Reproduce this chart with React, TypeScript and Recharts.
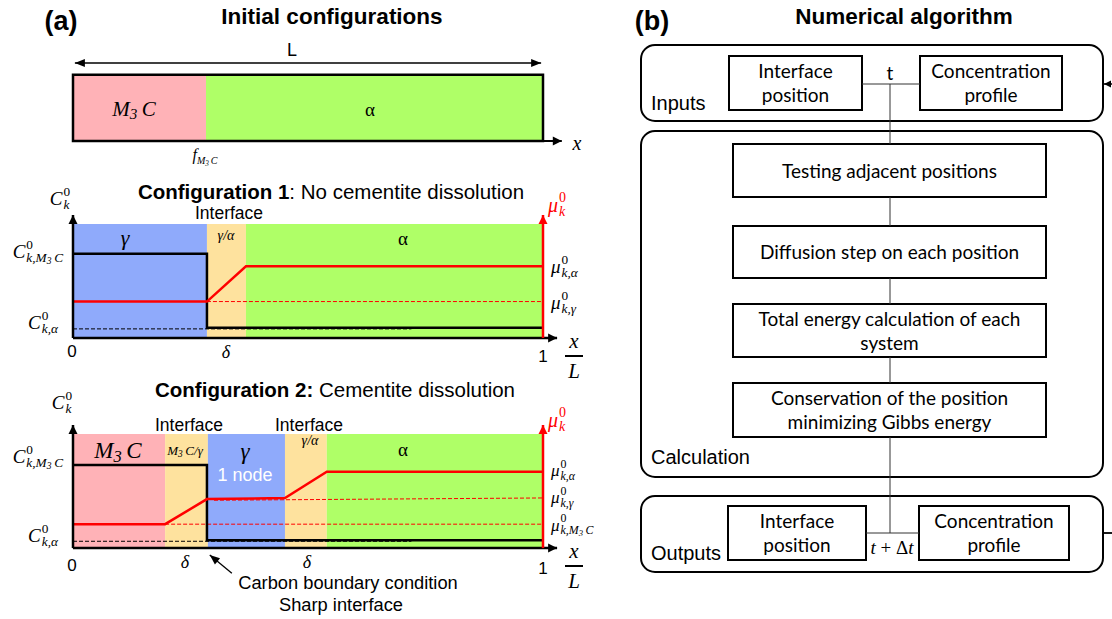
import React from 'react';
import { ComposedChart, Line, XAxis, YAxis, ReferenceArea } from 'recharts';

const SANS = '"Liberation Sans", Arial, sans-serif';
const SERIF = '"Liberation Serif", "DejaVu Serif", serif';
const BOXFONT = 'Lato, "Open Sans", sans-serif';

// ---------------- DATA ----------------
// (a) top bar: phase fractions along x / L
const barPhases = [
  { phase: 'M3C', from: 0, to: 0.283 },
  { phase: 'alpha', from: 0.283, to: 1 },
];
const lengthArrow = [{ x: 0.004, y: 1.18 }, { x: 0.996, y: 1.18 }];
const barAxis = [{ x: 0, y: 0 }, { x: 1.04, y: 0 }];

// Configuration 1: no cementite dissolution
const c1Phases = [
  { phase: 'gamma', from: 0, to: 0.285 },
  { phase: 'interface', from: 0.285, to: 0.368 },
  { phase: 'alpha', from: 0.368, to: 1 },
];
const c1Conc = [{ x: 0, y: 7.4 }, { x: 0.285, y: 7.4 }, { x: 0.285, y: 0.9 }, { x: 1, y: 0.9 }];
const c1ConcAlpha = [{ x: 0, y: 0.8 }, { x: 0.72, y: 0.8 }];
const c1Mu = [{ x: 0, y: 3.2 }, { x: 0.285, y: 3.2 }, { x: 0.368, y: 6.3 }, { x: 1, y: 6.3 }];
const c1MuGamma = [{ x: 0.285, y: 3.2 }, { x: 1, y: 3.2 }];

// Configuration 2: cementite dissolution
const c2Phases = [
  { phase: 'M3C', from: 0, to: 0.196 },
  { phase: 'interface', from: 0.196, to: 0.287 },
  { phase: 'gamma', from: 0.287, to: 0.451 },
  { phase: 'interface', from: 0.451, to: 0.54 },
  { phase: 'alpha', from: 0.54, to: 1 },
];
const c2Conc = [{ x: 0, y: 7.3 }, { x: 0.285, y: 7.3 }, { x: 0.285, y: 0.7 }, { x: 1, y: 0.7 }];
const c2ConcAlpha = [{ x: 0, y: 0.6 }, { x: 0.72, y: 0.6 }];
const c2Mu = [
  { x: 0, y: 2.1 }, { x: 0.196, y: 2.1 }, { x: 0.285, y: 4.3 },
  { x: 0.451, y: 4.4 }, { x: 0.54, y: 6.7 }, { x: 1, y: 6.7 },
];
const c2MuGamma = [{ x: 0.3, y: 4.2 }, { x: 1, y: 4.4 }];
const c2MuM3C = [{ x: 0.196, y: 2.1 }, { x: 1, y: 2.1 }];
const c2Pointer = [{ x: 0.338, y: -2.2 }, { x: 0.291, y: -0.6 }];

const phaseTop = 10;
const yArrowTop = 10.8;
const leftAxis = [{ x: 0, y: 0 }, { x: 0, y: yArrowTop }];
const rightAxis = [{ x: 1, y: 0 }, { x: 1, y: yArrowTop }];
const bottomAxis = [{ x: 0, y: 0 }, { x: 1.03, y: 0 }];

// (b) flowchart
const groupNames = ['Inputs', 'Calculation', 'Outputs'];
const ioNames = ['Interface\nposition', 'Concentration\nprofile', 'Interface\nposition', 'Concentration\nprofile'];
const calcSteps = [
  'Testing adjacent positions',
  'Diffusion step on each position',
  'Total energy calculation of each\nsystem',
  'Conservation of the position\nminimizing Gibbs energy',
];
const timeMarks = ['t', 't + Δt'];

// ---------------- LAYOUT / STYLE ----------------
const phaseFill: Record<string, string> = {
  M3C: '#FFB2B7',
  gamma: '#8FAAFB',
  interface: '#FEE29E',
  alpha: '#AFFF67',
};
const groupBoxes = [[641, 45, 1103, 121], [641, 131, 1103, 477], [641, 496, 1103, 572]];
const groupLabelPos = [[651, 103], [651, 457], [651, 553]];
const calcBoxes = [[733, 144, 1046, 197], [733, 226, 1046, 278], [733, 304, 1046, 357], [733, 383, 1046, 437]];
const ioBoxes = [[729, 56, 862, 110], [920, 56, 1062, 110], [728, 506, 866, 560], [919, 506, 1069, 560]];
const flowLinks = [
  [{ x: 890, y: 84 }, { x: 890, y: 144 }],
  [{ x: 890, y: 197 }, { x: 890, y: 226 }],
  [{ x: 890, y: 278 }, { x: 890, y: 304 }],
  [{ x: 890, y: 357 }, { x: 890, y: 383 }],
  [{ x: 890, y: 437 }, { x: 890, y: 533 }],
  [{ x: 862, y: 84 }, { x: 920, y: 84 }],
  [{ x: 866, y: 533 }, { x: 919, y: 533 }],
];
const outLink = [{ x: 1103, y: 533 }, { x: 1112, y: 533 }];
const loopArrow = [{ x: 1112, y: 84 }, { x: 1104, y: 84 }];

// ---------------- HELPERS ----------------
type Pt = { x: number; y: number };
function arrowDot(n: number, color: string, startDeg?: number, size = 9, half = 4.5) {
  const pts: Pt[] = [];
  return (p: any) => {
    const { cx, cy, index } = p;
    pts[index] = { x: cx, y: cy };
    let ang: number | null = null;
    if (index === n - 1 && index > 0 && pts[index - 1]) {
      ang = Math.atan2(cy - pts[index - 1].y, cx - pts[index - 1].x);
    } else if (index === 0 && startDeg !== undefined) {
      ang = (startDeg * Math.PI) / 180;
    }
    if (ang === null || cx == null || cy == null) return <g key={`d${index}`} />;
    const c = Math.cos(ang);
    const s = Math.sin(ang);
    const bx = cx - size * c;
    const by = cy - size * s;
    const poly = `${cx},${cy} ${bx - half * s},${by + half * c} ${bx + half * s},${by - half * c}`;
    return <polygon key={`d${index}`} points={poly} fill={color} stroke="none" />;
  };
}

function ln(key: string, data: Pt[], stroke: string, w: number, opts: { dash?: string; arrow?: 'end' | 'both'; size?: number; half?: number } = {}) {
  return (
    <Line
      key={key}
      data={data}
      dataKey="y"
      type="linear"
      stroke={stroke}
      strokeWidth={w}
      strokeDasharray={opts.dash}
      dot={opts.arrow ? arrowDot(data.length, stroke, opts.arrow === 'both' ? 180 : undefined, opts.size ?? 9, opts.half ?? 4.5) : false}
      activeDot={false}
      isAnimationActive={false}
      legendType="none"
    />
  );
}

function regions(phases: { phase: string; from: number; to: number }[], top: number) {
  return phases.map((p, i) => (
    <ReferenceArea key={`r${i}`} x1={p.from} x2={p.to} y1={0} y2={top} fill={phaseFill[p.phase]} fillOpacity={1} stroke="none" />
  ));
}

function T({ x, y, a = 'middle', children, style }: any) {
  const tx = a === 'middle' ? '-50%' : a === 'end' ? '-100%' : '0';
  return (
    <div style={{ position: 'absolute', left: x, top: y, transform: `translate(${tx}, -50%)`, whiteSpace: 'nowrap', lineHeight: 1.15, ...style }}>
      {children}
    </div>
  );
}

const M3C = ({ k }: { k?: boolean }) => (
  <span>
    {k ? 'k,' : ''}M<span style={{ fontSize: '0.72em', verticalAlign: '-0.22em' }}>3</span>
    {'\u2009'}C
  </span>
);

function Mth({ base, sup, sub, size = 19, color = '#000' }: any) {
  return (
    <span style={{ display: 'inline-flex', alignItems: 'center', fontFamily: SERIF, fontStyle: 'italic', fontSize: size, color, lineHeight: 1 }}>
      <span>{base}</span>
      <span style={{ display: 'inline-flex', flexDirection: 'column', fontSize: size * 0.7, lineHeight: 1.0, marginLeft: 1, alignItems: 'flex-start' }}>
        <span style={{ fontStyle: 'normal' }}>{sup}</span>
        <span>{sub ?? '\u00a0'}</span>
      </span>
    </span>
  );
}

const axisProps = { type: 'number' as const, hide: true };

function Frac({ x, y }: { x: number; y: number }) {
  return (
    <>
      <T x={x} y={y - 15} style={{ fontFamily: SERIF, fontStyle: 'italic', fontSize: 21 }}>x</T>
      <div style={{ position: 'absolute', left: x - 9, top: y - 1, width: 18, height: 2, background: '#000' }} />
      <T x={x} y={y + 15} style={{ fontFamily: SERIF, fontStyle: 'italic', fontSize: 21 }}>L</T>
    </>
  );
}

const boxText = { fontFamily: BOXFONT, fontSize: 19, textAlign: 'center' as const, whiteSpace: 'pre' as const, lineHeight: '24px' };
const tight = { lineHeight: 1 };

// ---------------- APP ----------------
export default function App() {
  const aMargin = { left: 73, right: 600 - (73 + 1.04 * 470) };
  return (
    <div style={{ position: 'absolute', left: 0, top: 0, width: 1112, height: 619, background: '#fff', overflow: 'hidden', fontFamily: SANS }}>
      {/* top bar */}
      <div style={{ position: 'absolute', left: 0, top: 50 }}>
        <ComposedChart width={600} height={100} margin={{ top: 5, bottom: 9, ...aMargin }}>
          <XAxis dataKey="x" {...axisProps} domain={[0, 1.04]} height={0} />
          <YAxis {...axisProps} domain={[0, 1.3]} width={0} />
          {barPhases.map((p, i) => (
            <ReferenceArea key={`b${i}`} x1={p.from} x2={p.to} y1={0} y2={1} fill={phaseFill[p.phase]} fillOpacity={1} stroke="none" />
          ))}
          <ReferenceArea x1={0} x2={1} y1={0} y2={1} fill="none" fillOpacity={0} stroke="#000" strokeWidth={2.5} />
          {ln('ax', barAxis, '#000', 2, { arrow: 'end' })}
          {ln('L', lengthArrow, '#000', 1.6, { arrow: 'both', size: 10, half: 4 })}
        </ComposedChart>
      </div>

      {/* configuration 1 */}
      <div style={{ position: 'absolute', left: 0, top: 200 }}>
        <ComposedChart width={600} height={150} margin={{ top: 15, bottom: 12, ...aMargin }}>
          <XAxis dataKey="x" {...axisProps} domain={[0, 1.04]} height={0} />
          <YAxis {...axisProps} domain={[0, yArrowTop]} width={0} />
          {regions(c1Phases, phaseTop)}
          {ln('cd', c1ConcAlpha, '#000', 1, { dash: '4 2' })}
          {ln('md', c1MuGamma, '#FF0000', 1, { dash: '4 2' })}
          {ln('c', c1Conc, '#000', 2.5)}
          {ln('m', c1Mu, '#FF0000', 2.5)}
          {ln('la', leftAxis, '#000', 2.5, { arrow: 'end' })}
          {ln('ba', bottomAxis, '#000', 2.5, { arrow: 'end' })}
          {ln('ra', rightAxis, '#FF0000', 2.5, { arrow: 'end' })}
        </ComposedChart>
      </div>

      {/* configuration 2 */}
      <div style={{ position: 'absolute', left: 0, top: 410 }}>
        <ComposedChart width={600} height={180} margin={{ top: 15, bottom: 180 - 15 - 13.4 * 11.4, ...aMargin }}>
          <XAxis dataKey="x" {...axisProps} domain={[0, 1.04]} height={0} />
          <YAxis {...axisProps} domain={[-2.6, yArrowTop]} width={0} />
          {regions(c2Phases, phaseTop)}
          {ln('cd', c2ConcAlpha, '#000', 1, { dash: '4 2' })}
          {ln('md1', c2MuGamma, '#FF0000', 1, { dash: '4 2' })}
          {ln('md2', c2MuM3C, '#FF0000', 1, { dash: '4 2' })}
          {ln('c', c2Conc, '#000', 2.5)}
          {ln('m', c2Mu, '#FF0000', 2.5)}
          {ln('la', leftAxis, '#000', 2.5, { arrow: 'end' })}
          {ln('ba', bottomAxis, '#000', 2.5, { arrow: 'end' })}
          {ln('ra', rightAxis, '#FF0000', 2.5, { arrow: 'end' })}
          {ln('ptr', c2Pointer, '#000', 1.3, { arrow: 'end', size: 10, half: 4 })}
        </ComposedChart>
      </div>

      {/* flowchart */}
      <div style={{ position: 'absolute', left: 600, top: 30 }}>
        <ComposedChart width={512} height={589} margin={{ top: 0, right: 0, bottom: 0, left: 0 }}>
          <XAxis dataKey="x" {...axisProps} domain={[600, 1112]} height={0} />
          <YAxis {...axisProps} domain={[30, 619]} reversed width={0} />
          {groupBoxes.map((b, i) => (
            <ReferenceArea
              key={`g${i}`}
              x1={b[0]} x2={b[2]} y1={b[1]} y2={b[3]}
              shape={(p: any) => (
                <rect x={p.x} y={p.y} width={p.width} height={p.height} rx={14} ry={14} fill="none" stroke="#000" strokeWidth={2} />
              )}
            />
          ))}
          {[...calcBoxes, ...ioBoxes].map((b, i) => (
            <ReferenceArea
              key={`c${i}`}
              x1={b[0]} x2={b[2]} y1={b[1]} y2={b[3]}
              shape={(p: any) => (
                <rect x={p.x} y={p.y} width={p.width} height={p.height} fill="#fff" stroke="#000" strokeWidth={2} />
              )}
            />
          ))}
          {flowLinks.map((l, i) => ln(`f${i}`, l, '#333', 1))}
          {ln('out', outLink, '#000', 1.8)}
          {ln('loop', loopArrow, '#000', 1.5, { arrow: 'end', size: 7, half: 3.5 })}
        </ComposedChart>
      </div>

      {/* ----- text: panel (a) ----- */}
      <T x={61} y={22} style={{ fontSize: 27, fontWeight: 'bold' }}>(a)</T>
      <T x={332} y={17} style={{ fontSize: 22.5, fontWeight: 'bold' }}>Initial configurations</T>
      <T x={292} y={50} style={{ fontSize: 18 }}>L</T>
      <T x={134} y={110} style={{ fontFamily: SERIF, fontStyle: 'italic', fontSize: 21 }}><M3C /></T>
      <T x={370} y={110} style={{ fontFamily: SERIF, fontSize: 19 }}>α</T>
      <T x={577} y={143} style={{ fontFamily: SERIF, fontStyle: 'italic', fontSize: 20 }}>x</T>
      <T x={205} y={157} style={{ fontFamily: SERIF, fontStyle: 'italic', fontSize: 16 }}>
        f<span style={{ fontSize: 10, verticalAlign: '-0.35em' }}><M3C /></span>
      </T>

      {/* configuration 1 text */}
      <T x={331} y={192} style={{ fontSize: 20.5 }}><b>Configuration 1</b>: No cementite dissolution</T>
      <T x={229} y={213} style={{ fontSize: 17.5 }}>Interface</T>
      <T x={60} y={198}><Mth base="C" sup="0" sub="k" /></T>
      <T x={125} y={238} style={{ fontFamily: SERIF, fontStyle: 'italic', fontSize: 22 }}>γ</T>
      <T x={226} y={236} style={{ fontFamily: SERIF, fontStyle: 'italic', fontSize: 14 }}>γ/α</T>
      <T x={403} y={239} style={{ fontFamily: SERIF, fontSize: 19 }}>α</T>
      <T x={63} y={252} a="end"><Mth base="C" sup="0" sub={<M3C k />} /></T>
      <T x={58} y={322} a="end"><Mth base="C" sup="0" sub="k,α" /></T>
      <T x={548} y={205} a="start"><Mth base="μ" sup="0" sub="k" color="#FF0000" size={20} /></T>
      <T x={551} y={266} a="start"><Mth base="μ" sup="0" sub="k,α" /></T>
      <T x={551} y={302} a="start"><Mth base="μ" sup="0" sub="k,γ" /></T>
      <T x={72} y={352} style={{ fontSize: 17 }}>0</T>
      <T x={226} y={352} style={{ fontFamily: SERIF, fontStyle: 'italic', fontSize: 18 }}>δ</T>
      <T x={543} y={357} style={{ fontSize: 17 }}>1</T>
      <Frac x={574} y={356} />

      {/* configuration 2 text */}
      <T x={335} y={390} style={{ fontSize: 20.5 }}><b>Configuration 2:</b> Cementite dissolution</T>
      <T x={189} y={425} style={{ fontSize: 17.5 }}>Interface</T>
      <T x={309} y={425} style={{ fontSize: 17.5 }}>Interface</T>
      <T x={62} y={402}><Mth base="C" sup="0" sub="k" /></T>
      <T x={118} y={452} style={{ fontFamily: SERIF, fontStyle: 'italic', fontSize: 23 }}><M3C /></T>
      <T x={185} y={452} style={{ fontFamily: SERIF, fontStyle: 'italic', fontSize: 13 }}><M3C />/γ</T>
      <T x={245} y={452} style={{ fontFamily: SERIF, fontStyle: 'italic', fontSize: 23 }}>γ</T>
      <T x={245} y={475} style={{ fontSize: 18, color: '#fff' }}>1 node</T>
      <T x={310} y={441} style={{ fontFamily: SERIF, fontStyle: 'italic', fontSize: 14 }}>γ/α</T>
      <T x={403} y={450} style={{ fontFamily: SERIF, fontSize: 19 }}>α</T>
      <T x={63} y={457} a="end"><Mth base="C" sup="0" sub={<M3C k />} /></T>
      <T x={58} y={535} a="end"><Mth base="C" sup="0" sub="k,α" /></T>
      <T x={548} y={420} a="start"><Mth base="μ" sup="0" sub="k" color="#FF0000" size={20} /></T>
      <T x={551} y={471} a="start" style={tight}><Mth base="μ" sup="0" sub="k,α" size={17} /></T>
      <T x={551} y={498} a="start" style={tight}><Mth base="μ" sup="0" sub="k,γ" size={17} /></T>
      <T x={551} y={525} a="start" style={tight}><Mth base="μ" sup="0" sub={<M3C k />} size={17} /></T>
      <T x={72} y={566} style={{ fontSize: 17 }}>0</T>
      <T x={185} y={562} style={{ fontFamily: SERIF, fontStyle: 'italic', fontSize: 18 }}>δ</T>
      <T x={307} y={562} style={{ fontFamily: SERIF, fontStyle: 'italic', fontSize: 18 }}>δ</T>
      <T x={543} y={569} style={{ fontSize: 17 }}>1</T>
      <Frac x={574} y={566} />
      <T x={348} y={583} style={{ fontSize: 18.3 }}>Carbon boundary condition</T>
      <T x={341} y={605} style={{ fontSize: 18.3 }}>Sharp interface</T>

      {/* ----- text: panel (b) ----- */}
      <T x={652} y={22} style={{ fontSize: 27, fontWeight: 'bold' }}>(b)</T>
      <T x={904} y={17} style={{ fontSize: 22.5, fontWeight: 'bold' }}>Numerical algorithm</T>
      {groupNames.map((g, i) => (
        <T key={g} x={groupLabelPos[i][0]} y={groupLabelPos[i][1]} a="start" style={{ fontSize: 20 }}>{g}</T>
      ))}
      {calcSteps.map((s, i) => {
        const b = calcBoxes[i];
        return (
          <T key={s} x={(b[0] + b[2]) / 2} y={(b[1] + b[3]) / 2} style={boxText}>{s}</T>
        );
      })}
      {ioNames.map((s, i) => {
        const b = ioBoxes[i];
        return (
          <T key={i} x={(b[0] + b[2]) / 2} y={(b[1] + b[3]) / 2} style={boxText}>{s}</T>
        );
      })}
      <T x={890} y={73} style={{ fontFamily: BOXFONT, fontSize: 19 }}>{timeMarks[0]}</T>
      <T x={892} y={548} style={{ fontFamily: SERIF, fontSize: 19 }}>
        <i>t</i> + Δ<i>t</i>
      </T>
    </div>
  );
}
